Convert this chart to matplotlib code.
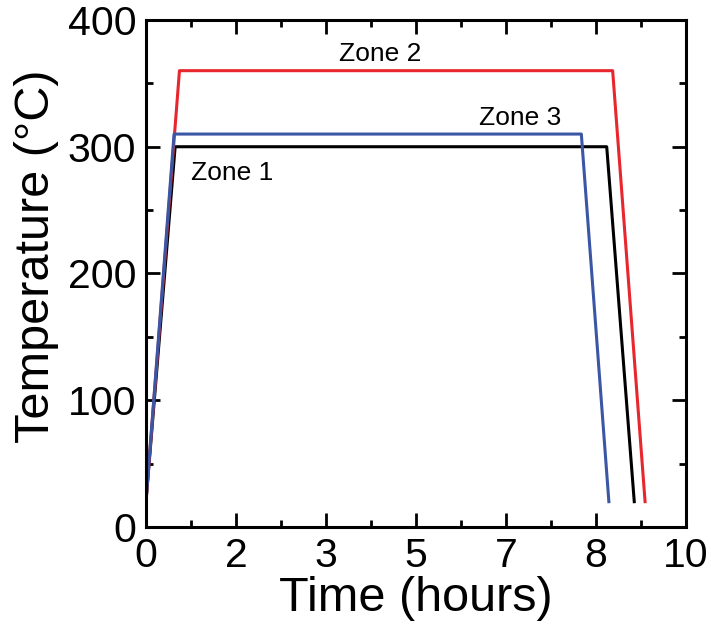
import numpy as np
import matplotlib
matplotlib.use("Agg")
import matplotlib.pyplot as plt
from matplotlib.ticker import FixedLocator, FuncFormatter

plt.rcParams['font.family'] = ['Liberation Sans', 'DejaVu Sans']

# Datos (horas, °C)
t_zona1 = [0, 0.54, 8.53, 9.04]
T_zona1 = [20, 300, 300, 20]
t_zona2 = [0, 0.62, 8.64, 9.24]
T_zona2 = [20, 360, 360, 20]
t_zona3 = [0, 0.52, 8.06, 8.57]
T_zona3 = [20, 310, 310, 20]

etiquetas = ["Zone 1", "Zone 2", "Zone 3"]

fig = plt.figure(figsize=(7.11, 6.28), dpi=100)
ax = fig.add_axes([0.2053, 0.1608, 0.7597, 0.8074])

ax.plot(t_zona1, T_zona1, color='black', lw=2.2)
ax.plot(t_zona2, T_zona2, color='#e8262d', lw=2.2)
ax.plot(t_zona3, T_zona3, color='#3c56a6', lw=2.2)

ax.text(1.59, 274, etiquetas[0], fontsize=19, va='baseline', ha='center')
ax.text(4.33, 368, etiquetas[1], fontsize=19, va='baseline', ha='center')
ax.text(6.92, 317, etiquetas[2], fontsize=19, va='baseline', ha='center')

ax.set_xlim(0, 10)
ax.set_ylim(0, 400)

mayores = np.linspace(0, 10, 7)
ax.xaxis.set_major_locator(FixedLocator(mayores))
ax.xaxis.set_minor_locator(FixedLocator(mayores[:-1] + 10 / 12))
ax.xaxis.set_major_formatter(FuncFormatter(lambda v, p: "%d" % round(v)))
ax.yaxis.set_major_locator(FixedLocator([0, 100, 200, 300, 400]))
ax.yaxis.set_minor_locator(FixedLocator([50, 150, 250, 350]))

ax.tick_params(which='both', direction='in', top=True, right=True, width=2)
ax.tick_params(which='major', length=10, labelsize=29.5, pad=7)
ax.tick_params(which='minor', length=5)
for s in ax.spines.values():
    s.set_linewidth(2.2)

ax.set_xlabel('Time (hours)', fontsize=35, labelpad=1)
ax.set_ylabel('Temperature (°C)', fontsize=35)
ax.yaxis.set_label_coords(-0.161, 0.534)

fig.savefig('out.png', dpi=100)
